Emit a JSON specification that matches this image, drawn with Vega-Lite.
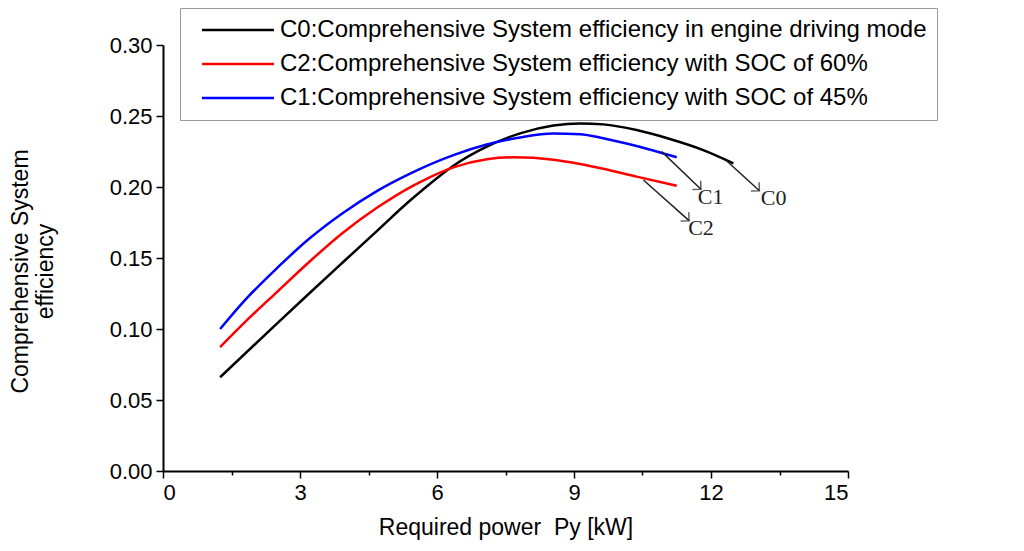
{
  "$schema": "https://vega.github.io/schema/vega-lite/v6.json",
  "autosize": "none",
  "width": 685,
  "height": 426,
  "padding": {"left": 163, "top": 45, "right": 176, "bottom": 80},
  "background": "white",
  "config": {
    "view": {"stroke": null},
    "font": "Liberation Sans"
  },
  "datasets": {
    "curves": [
      {"series": "C0", "p": 1.25, "eff": 0.066},
      {"series": "C0", "p": 2.5, "eff": 0.104},
      {"series": "C0", "p": 3.2, "eff": 0.125},
      {"series": "C0", "p": 3.94, "eff": 0.147},
      {"series": "C0", "p": 4.7, "eff": 0.1695},
      {"series": "C0", "p": 5.41, "eff": 0.1905},
      {"series": "C0", "p": 5.63, "eff": 0.1965},
      {"series": "C0", "p": 6.36, "eff": 0.215},
      {"series": "C0", "p": 7.09, "eff": 0.2284},
      {"series": "C0", "p": 7.82, "eff": 0.2378},
      {"series": "C0", "p": 8.55, "eff": 0.2433},
      {"series": "C0", "p": 9.13, "eff": 0.2448},
      {"series": "C0", "p": 9.64, "eff": 0.2441},
      {"series": "C0", "p": 10.37, "eff": 0.2401},
      {"series": "C0", "p": 11.1, "eff": 0.2338},
      {"series": "C0", "p": 11.83, "eff": 0.226},
      {"series": "C0", "p": 12.49, "eff": 0.2167},
      {"series": "C2", "p": 1.25, "eff": 0.0873},
      {"series": "C2", "p": 1.8, "eff": 0.105},
      {"series": "C2", "p": 2.5, "eff": 0.1262},
      {"series": "C2", "p": 3.2, "eff": 0.1472},
      {"series": "C2", "p": 3.94, "eff": 0.1678},
      {"series": "C2", "p": 4.7, "eff": 0.1857},
      {"series": "C2", "p": 5.41, "eff": 0.1998},
      {"series": "C2", "p": 5.63, "eff": 0.2035},
      {"series": "C2", "p": 6.36, "eff": 0.2138},
      {"series": "C2", "p": 7.09, "eff": 0.2195},
      {"series": "C2", "p": 7.67, "eff": 0.2209},
      {"series": "C2", "p": 8.55, "eff": 0.2192},
      {"series": "C2", "p": 9.13, "eff": 0.2162},
      {"series": "C2", "p": 9.64, "eff": 0.2128},
      {"series": "C2", "p": 10.37, "eff": 0.2073},
      {"series": "C2", "p": 11.25, "eff": 0.2009},
      {"series": "C1", "p": 1.25, "eff": 0.1},
      {"series": "C1", "p": 1.8, "eff": 0.1205},
      {"series": "C1", "p": 2.5, "eff": 0.143},
      {"series": "C1", "p": 3.2, "eff": 0.1635},
      {"series": "C1", "p": 3.94, "eff": 0.1817},
      {"series": "C1", "p": 4.7, "eff": 0.1975},
      {"series": "C1", "p": 5.41, "eff": 0.2095},
      {"series": "C1", "p": 6.36, "eff": 0.2225},
      {"series": "C1", "p": 7.09, "eff": 0.2299},
      {"series": "C1", "p": 7.82, "eff": 0.2349},
      {"series": "C1", "p": 8.55, "eff": 0.2377},
      {"series": "C1", "p": 9.13, "eff": 0.2372},
      {"series": "C1", "p": 9.64, "eff": 0.2344},
      {"series": "C1", "p": 10.37, "eff": 0.2289},
      {"series": "C1", "p": 11.25, "eff": 0.2209}
    ],
    "arrows": [
      {"label": "C1", "x1": 10.92, "y1": 0.2249, "x2": 11.78, "y2": 0.1984, "tx": 11.71, "ty": 0.1932},
      {"label": "C0", "x1": 12.34, "y1": 0.2185, "x2": 13.06, "y2": 0.1974, "tx": 13.09, "ty": 0.192},
      {"label": "C2", "x1": 10.52, "y1": 0.2049, "x2": 11.52, "y2": 0.1763, "tx": 11.5, "ty": 0.1709}
    ]
  },
  "layer": [
    {
      "data": {"name": "curves"},
      "mark": {"type": "line", "strokeWidth": 2.5, "interpolate": "monotone"},
      "encoding": {
        "x": {
          "field": "p",
          "type": "quantitative",
          "scale": {"domain": [0, 15], "nice": false},
          "axis": {
            "title": "Required power\u00a0 Py [kW]",
            "titleFontSize": 23,
            "titleFontWeight": "normal",
            "titleColor": "black",
            "titlePadding": 13,
            "values": [0, 1.5, 3, 4.5, 6, 7.5, 9, 10.5, 12, 13.5, 15],
            "labelExpr": "datum.value % 3 === 0 ? format(datum.value, 'd') : ''",
            "labelFontSize": 22,
            "labelColor": "black",
            "labelPadding": 4,
            "grid": false,
            "domainColor": "black",
            "domainWidth": 2,
            "tickColor": "black",
            "tickWidth": 1.5,
            "tickSize": {"condition": {"test": "datum.value % 3 === 0", "value": 7}, "value": 4}
          }
        },
        "y": {
          "field": "eff",
          "type": "quantitative",
          "scale": {"domain": [0, 0.3], "nice": false},
          "axis": {
            "title": ["Comprehensive System", "efficiency"],
            "titleFontSize": 23,
            "titleFontWeight": "normal",
            "titleColor": "black",
            "titlePadding": 52,
            "titleY": 226,
            "values": [0, 0.025, 0.05, 0.075, 0.1, 0.125, 0.15, 0.175, 0.2, 0.225, 0.25, 0.275, 0.3],
            "labelExpr": "round(datum.value * 1000) % 50 === 0 ? format(datum.value, '.2f') : ''",
            "labelFontSize": 22,
            "labelColor": "black",
            "labelPadding": 4,
            "grid": false,
            "domainColor": "black",
            "domainWidth": 2,
            "tickColor": "black",
            "tickWidth": 1.5,
            "tickSize": {"condition": {"test": "round(datum.value * 1000) % 50 === 0", "value": 7}, "value": 4}
          }
        },
        "color": {
          "field": "series",
          "type": "nominal",
          "scale": {"domain": ["C0", "C2", "C1"], "range": ["#000000", "#ff0000", "#0000ff"]},
          "legend": {
            "orient": "none",
            "legendX": 17,
            "legendY": -37,
            "title": null,
            "symbolType": "M-1,0L6.2,0",
            "symbolSize": 400,
            "symbolStrokeWidth": 2.5,
            "symbolOffset": 10,
            "labelFontSize": 24,
            "labelColor": "black",
            "labelLimit": 900,
            "labelOffset": 56,
            "rowPadding": 10,
            "padding": 10,
            "strokeColor": "#999999",
            "fillColor": "white",
            "labelExpr": "datum.value === 'C0' ? 'C0:Comprehensive System efficiency in engine driving mode' : datum.value === 'C2' ? 'C2:Comprehensive System efficiency with SOC of 60%' : 'C1:Comprehensive System efficiency with SOC of 45%'"
          }
        }
      }
    },
    {
      "data": {"name": "arrows"},
      "mark": {"type": "rule", "color": "#222222", "strokeWidth": 1.5},
      "encoding": {
        "x": {"field": "x1", "type": "quantitative"},
        "y": {"field": "y1", "type": "quantitative"},
        "x2": {"field": "x2"},
        "y2": {"field": "y2"}
      }
    },
    {
      "data": {"name": "arrows"},
      "mark": {"type": "point", "shape": "M-1,-1L0,0L-1,1", "filled": false, "stroke": "#222222", "strokeWidth": 1.5, "size": 144, "angle": 43},
      "encoding": {
        "x": {"field": "x2", "type": "quantitative"},
        "y": {"field": "y2", "type": "quantitative"}
      }
    },
    {
      "data": {"name": "arrows"},
      "mark": {"type": "text", "font": "Liberation Serif", "fontSize": 22, "color": "#222222", "align": "left", "baseline": "middle"},
      "encoding": {
        "x": {"field": "tx", "type": "quantitative"},
        "y": {"field": "ty", "type": "quantitative"},
        "text": {"field": "label"}
      }
    }
  ]
}
